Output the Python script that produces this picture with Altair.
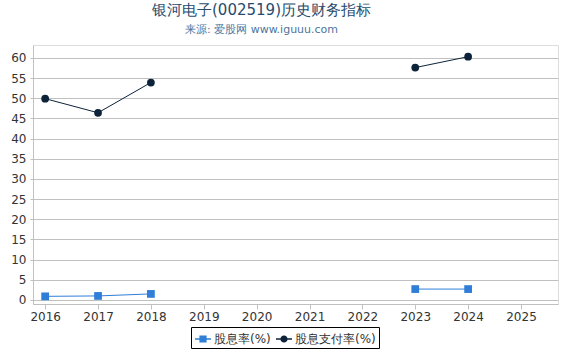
import altair as alt
import pandas as pd

years = [2016, 2017, 2018, 2019, 2020, 2021, 2022, 2023, 2024, 2025]
dividend_yield = [0.9, 1.0, 1.5, None, None, None, None, 2.7, 2.7, None]
payout_ratio = [49.9, 46.4, 53.9, None, None, None, None, 57.6, 60.3, None]
series_names = ["股息率(%)", "股息支付率(%)"]
colors = ["#2f7ed8", "#0d233a"]

rows = []
for name, vals in zip(series_names, [dividend_yield, payout_ratio]):
    seg = 0
    prev_none = False
    for y, v in zip(years, vals):
        if v is None:
            prev_none = True
            continue
        if prev_none:
            seg += 1
            prev_none = False
        rows.append({"year": y, "value": v, "series": name, "seg": f"{name}-{seg}"})
df = pd.DataFrame(rows)

xscale = alt.Scale(domain=[2015.77, 2025.7], nice=False, zero=False)
yscale = alt.Scale(domain=[-1, 63.2], nice=False, zero=False)
cscale = alt.Scale(domain=series_names, range=colors)

x = alt.X("year:Q", scale=xscale, title=None,
          axis=alt.Axis(values=years, format="d", grid=False, tickColor="#c0c0c0",
                        domainColor="#c0c0c0", tickSize=5, labelFontSize=12,
                        labelColor="#333333", labelPadding=2, labelFont="DejaVu Sans"))
y = alt.Y("value:Q", scale=yscale, title=None,
          axis=alt.Axis(values=list(range(0, 65, 5)), grid=True, gridColor="#c0c0c0",
                        domainColor="#c0c0c0", tickColor="#c0c0c0", tickSize=3,
                        labelFontSize=12, labelColor="#333333", labelPadding=4,
                        labelFont="DejaVu Sans"))

legend = alt.Legend(title=None, orient="none", direction="horizontal",
                    legendX=158, legendY=282, strokeColor="#000000",
                    fillColor="#ffffff", padding=3, labelFontSize=12,
                    labelColor="#333333", labelFont="DejaVu Sans",
                    symbolSize=256, columnPadding=4, labelOffset=2)

sq_path = "M-1,-0.08H-0.45V0.08H-1Z M-0.45,-0.45H0.45V0.45H-0.45Z M0.45,-0.08H1V0.08H0.45Z"
ci_path = ("M-1,-0.08H-0.43V0.08H-1Z "
           "M-0.45,0A0.45,0.45 0 1,1 0.45,0A0.45,0.45 0 1,1 -0.45,0Z "
           "M0.43,-0.08H1V0.08H0.43Z")

lines = alt.Chart(df).mark_line(strokeWidth=1).encode(
    x=x, y=y, color=alt.Color("series:N", scale=cscale, legend=None), detail="seg:N",
)
points = alt.Chart(df).mark_point(filled=True, opacity=1, size=60).encode(
    x=x, y=y,
    color=alt.Color("series:N", scale=cscale, legend=None),
    shape=alt.Shape("series:N", scale=alt.Scale(domain=series_names, range=["square", "circle"]),
                    legend=None),
)
legend_layer = alt.Chart(df).transform_filter("false").mark_point(filled=True, opacity=1).encode(
    x=x, y=y,
    color=alt.Color("series:N", scale=cscale, legend=legend),
    shape=alt.Shape("series:N", scale=alt.Scale(domain=series_names, range=[sq_path, ci_path]),
                    legend=legend),
)

chart = alt.layer(lines, points, legend_layer).resolve_scale(
    shape="independent"
).resolve_legend(color="independent", shape="independent").properties(
    width=525, height=259,
    autosize=alt.AutoSizeParams(type="none"),
    padding={"left": 33, "top": 45, "right": 12, "bottom": 46},
    title=alt.TitleParams(text="银河电子(002519)历史财务指标",
                          subtitle="来源: 爱股网 www.iguuu.com",
                          anchor="middle", dx=-34, offset=10,
                          fontSize=15, font="DejaVu Sans", fontWeight="normal",
                          color="#274b6d", subtitleFontSize=11, subtitleColor="#4d759e",
                          subtitleFont="DejaVu Sans", subtitlePadding=6),
).configure_view(stroke=None).configure(background="white")

chart.save("out.html", embed_options={"renderer": "svg", "actions": False})
